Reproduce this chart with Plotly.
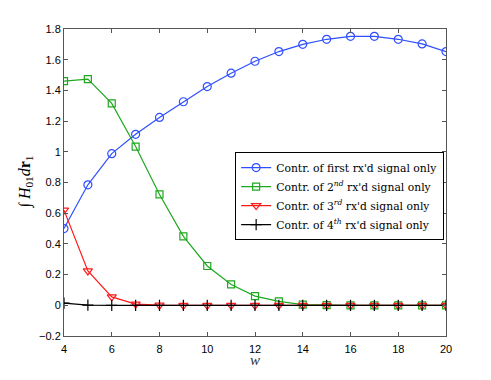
import plotly.graph_objects as go

w = list(range(4, 21))

first = [0.50, 0.785, 0.988, 1.114, 1.224, 1.326, 1.425, 1.512, 1.59, 1.653,
         1.70, 1.733, 1.752, 1.752, 1.733, 1.703, 1.653]
second = [1.46, 1.473, 1.315, 1.034, 0.722, 0.449, 0.256, 0.136, 0.06, 0.025,
          0.005, 0.001, 0.0, 0.0, 0.0, 0.0, 0.0]
third = [0.62, 0.224, 0.055, 0.008, 0.001, 0.0, 0.0, 0.0, 0.0, 0.0,
         0.0, 0.0, 0.0, 0.0, 0.0, 0.0, 0.0]
fourth = [0.014, 0.001, 0.0, 0.0, 0.0, 0.0, 0.0, 0.0, 0.0, 0.0,
          0.0, 0.0, 0.0, 0.0, 0.0, 0.0, 0.0]

names = [
    "Contr. of first rx'd signal only",
    "Contr. of 2<sup><i>nd</i></sup> rx'd signal only",
    "Contr. of 3<sup><i>rd</i></sup> rx'd signal only",
    "Contr. of 4<sup><i>th</i></sup> rx'd signal only",
]

serif = "Liberation Serif, DejaVu Serif, serif"
sans = "Liberation Sans, Arial, sans-serif"

fig = go.Figure()

styles = [
    (first, "#2f4fff", "circle-open", 8),
    (second, "#1fa81f", "square-open", 7),
    (third, "#ff1a1a", "triangle-down-open", 8),
    (fourth, "#000000", "cross-thin-open", 8),
]
for (vals, color, symbol, size), name in zip(styles, names):
    fig.add_trace(
        go.Scatter(
            x=w,
            y=vals,
            mode="lines+markers",
            name=name,
            line=dict(color=color, width=1.2),
            marker=dict(symbol=symbol, size=size, color=color,
                        line=dict(color=color, width=1.2)),
        )
    )

axis_common = dict(
    showgrid=False,
    zeroline=False,
    showline=True,
    linecolor="#555555",
    linewidth=1,
    mirror="ticks",
    ticks="inside",
    ticklen=4,
    tickcolor="#555555",
    tickfont=dict(family=sans, size=11, color="#000000"),
)

fig.update_xaxes(range=[4, 20], dtick=2, ticklabelstandoff=3, **axis_common)
fig.update_yaxes(range=[-0.2, 1.8], dtick=0.2, tickformat="~g", **axis_common)

fig.add_annotation(
    text="<i>w</i>",
    x=0.5, y=0, xref="paper", yref="paper", yanchor="middle",
    yshift=-24, showarrow=False,
    font=dict(family=serif, size=15, color="#333333"),
)
fig.add_annotation(
    text="∫ <i>H</i><sub>01</sub><i>d</i><b>r</b><sub>1</sub>",
    x=0, y=0.5, xref="paper", yref="paper",
    xanchor="center", yanchor="middle",
    xshift=-39, textangle=-90, showarrow=False,
    font=dict(family=serif, size=16, color="#000000"),
)

# the page body adds an 8px offset, so margins are shifted to compensate
fig.update_layout(
    width=491,
    height=380,
    margin=dict(l=56, r=53, t=21, b=52),
    paper_bgcolor="white",
    plot_bgcolor="white",
    legend=dict(
        x=0.448, y=0.599, xanchor="left", yanchor="top",
        bgcolor="white", bordercolor="#000000", borderwidth=1,
        font=dict(family="DejaVu Serif, serif", size=10.8, color="#000000"),
        tracegroupgap=0, itemwidth=30,
    ),
)

fig.write_html("out.html")
